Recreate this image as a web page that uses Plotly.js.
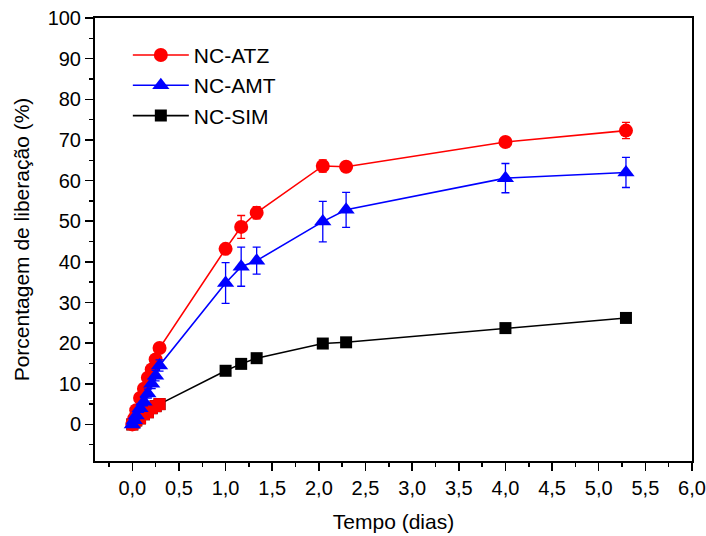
<!DOCTYPE html>
<html>
<head>
<meta charset="utf-8">
<script src="https://cdn.plot.ly/plotly-3.0.1.min.js"></script>
<style>html,body{margin:0;padding:0;background:#fff;}#chart{width:706px;height:536px;}</style>
</head>
<body>
<div id="chart"></div>
<script>
// Time in days
var tempo = [0, 0.021, 0.042, 0.083, 0.125, 0.167, 0.208, 0.25, 0.292, 1.0, 1.167, 1.333, 2.042, 2.292, 4.0, 5.292];
var atzValues = [0, 1.5, 3.5, 6.5, 8.8, 11.5, 13.5, 16.0, 18.8, 43.2, 48.6, 52.1, 63.6, 63.4, 69.5, 72.3];
var atzErr    = [0.3, 0.4, 0.5, 0.5, 0.6, 0.6, 0.7, 0.7, 0.8, 1.0, 2.8, 1.5, 1.5, 0.8, 0.8, 2.0];
var amtValues = [0, 1.0, 2.2, 4.0, 5.6, 7.6, 10.0, 12.0, 14.5, 34.8, 38.8, 40.3, 49.9, 52.8, 60.6, 62.0];
var amtErr    = [0.6, 0.8, 0.9, 1.0, 1.0, 1.1, 1.2, 1.3, 1.4, 5.0, 4.8, 3.3, 5.0, 4.3, 3.6, 3.7];
var simValues = [0, 0.5, 1.0, 1.5, 2.5, 3.0, 4.0, 4.5, 5.0, 13.2, 14.9, 16.3, 19.9, 20.2, 23.7, 26.2];
var seriesNames = ['NC-ATZ', 'NC-AMT', 'NC-SIM'];
var xTickVals = [0, 0.5, 1, 1.5, 2, 2.5, 3, 3.5, 4, 4.5, 5, 5.5, 6];
var yTickVals = [0, 10, 20, 30, 40, 50, 60, 70, 80, 90, 100];

// early points of the SIM series appear red in the reference
var earlyCount = tempo.filter(function (t) { return t < 0.5; }).length;

var FONT = 'Liberation Sans, Arial, sans-serif';

var traces = [
  {
    x: tempo, y: simValues, name: seriesNames[2], legendrank: 3,
    mode: 'lines+markers', type: 'scatter',
    line: {color: '#000000', width: 1.6},
    marker: {symbol: 'square', size: 12, color: '#000000'}
  },
  {
    x: tempo.slice(0, earlyCount), y: simValues.slice(0, earlyCount), showlegend: false,
    mode: 'markers', type: 'scatter', hoverinfo: 'skip',
    marker: {symbol: 'square', size: 12, color: '#ff0000'}
  },
  {
    x: tempo, y: atzValues, name: seriesNames[0], legendrank: 1,
    mode: 'lines+markers', type: 'scatter',
    line: {color: '#ff0000', width: 1.6},
    marker: {symbol: 'circle', size: 14, color: '#ff0000'},
    error_y: {type: 'data', array: atzErr, visible: true, color: '#ff0000', thickness: 1.3, width: 4}
  },
  {
    x: tempo, y: amtValues, name: seriesNames[1], legendrank: 2,
    mode: 'lines+markers', type: 'scatter',
    line: {color: '#0000ff', width: 1.6},
    marker: {symbol: 'triangle-up', size: 15, color: '#0000ff'},
    error_y: {type: 'data', array: amtErr, visible: true, color: '#0000ff', thickness: 1.3, width: 4}
  }
];

var layout = {
  width: 706, height: 536,
  margin: {l: 95, r: 14, t: 18, b: 75},
  paper_bgcolor: '#ffffff', plot_bgcolor: '#ffffff',
  separators: ',.',
  font: {family: FONT, color: '#000000', size: 20},
  showlegend: true,
  legend: {
    x: 0.055, y: 0.962, xanchor: 'left', yanchor: 'top',
    bgcolor: 'rgba(0,0,0,0)', borderwidth: 0,
    font: {family: FONT, size: 21, color: '#000000'},
    itemwidth: 56, tracegroupgap: 0
  },
  xaxis: {
    range: [-0.4, 6.0],
    tickvals: xTickVals, tickformat: '.1f',
    ticks: 'outside', ticklen: 8, tickwidth: 1.5, tickcolor: '#000',
    minor: {dtick: 0.25, tick0: 0, ticks: 'outside', ticklen: 4, tickwidth: 1.5, tickcolor: '#000'},
    showline: true, linecolor: '#000', linewidth: 2, mirror: true,
    showgrid: false, zeroline: false,
    tickfont: {family: FONT, size: 20},
    title: {text: 'Tempo (dias)', font: {family: FONT, size: 21}, standoff: 16}
  },
  yaxis: {
    range: [-9, 100],
    tickvals: yTickVals,
    ticks: 'outside', ticklen: 8, tickwidth: 1.5, tickcolor: '#000',
    minor: {dtick: 5, tick0: 0, ticks: 'outside', ticklen: 4, tickwidth: 1.5, tickcolor: '#000'},
    showline: true, linecolor: '#000', linewidth: 2, mirror: true,
    showgrid: false, zeroline: false,
    tickfont: {family: FONT, size: 20},
    title: {text: 'Porcentagem de liberação (%)', font: {family: FONT, size: 21}, standoff: 12}
  }
};

Plotly.newPlot('chart', traces, layout, {staticPlot: true, displayModeBar: false});
</script>
</body>
</html>
